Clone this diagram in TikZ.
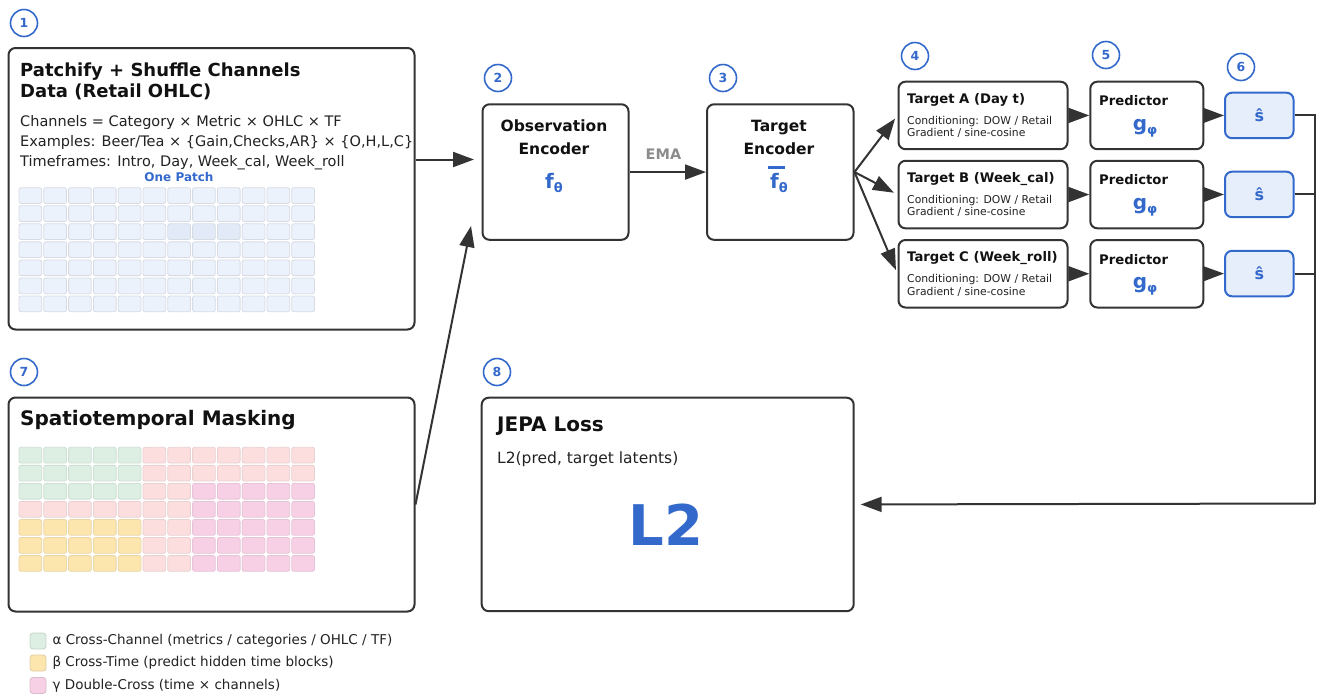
\documentclass[tikz,border=0pt]{standalone}
\usepackage{fontspec}
\setmainfont{DejaVu Sans}
\usetikzlibrary{arrows.meta}

\definecolor{edgegray}{HTML}{333333}
\definecolor{titlecol}{HTML}{111111}
\definecolor{bodycol}{HTML}{222222}
\definecolor{stepblue}{HTML}{3469CC}
\definecolor{emagray}{HTML}{8C8C8C}
\definecolor{shatfill}{HTML}{E6EEFB}
\definecolor{patchfill}{HTML}{ECF2FC}
\definecolor{patchpick}{HTML}{E2EAF8}
\definecolor{cellline}{HTML}{D6DBE3}
\definecolor{maskgreen}{HTML}{DCEFE2}
\definecolor{maskred}{HTML}{FCDEDF}
\definecolor{maskyellow}{HTML}{FDE5AE}
\definecolor{maskpink}{HTML}{F8D0E6}

\tikzset{
  panel/.style={draw=edgegray, line width=2pt, rounded corners=7pt, fill=white, anchor=north west, inner sep=0pt},
  shatbox/.style={draw=stepblue, line width=2pt, rounded corners=7pt, fill=shatfill, anchor=north west, inner sep=0pt, text=stepblue, font=\fontsize{16}{18}\selectfont\bfseries},
  stepnum/.style={circle, draw=stepblue, line width=1.6pt, minimum size=27pt, inner sep=0pt, text=stepblue, font=\fontsize{12.5}{14}\selectfont\bfseries},
  ttl/.style={anchor=base west, inner sep=0pt, text=titlecol, font=\fontsize{18}{21}\selectfont\bfseries},
  bigttl/.style={anchor=base west, inner sep=0pt, text=titlecol, font=\fontsize{20}{24}\selectfont\bfseries},
  body/.style={anchor=base west, inner sep=0pt, text=bodycol, font=\fontsize{14.5}{17}\selectfont},
  enclbl/.style={anchor=base, inner sep=0pt, text=titlecol, font=\fontsize{15.5}{18}\selectfont\bfseries},
  sym/.style={anchor=base, inner sep=0pt, text=stepblue, font=\fontsize{20}{24}\selectfont\bfseries},
  tgtlbl/.style={anchor=base west, inner sep=0pt, text=titlecol, font=\fontsize{13.2}{15}\selectfont\bfseries},
  condlbl/.style={anchor=base west, inner sep=0pt, text=bodycol, font=\fontsize{10.8}{12}\selectfont},
  swatch/.style={draw=#1!75!gray, fill=#1, line width=0.8pt, rounded corners=3pt, minimum size=16pt, inner sep=0pt},
  legtxt/.style={text=bodycol, inner sep=0pt, font=\fontsize{13.5}{16}\selectfont},
  cell/.style={draw=cellline, line width=0.8pt, rounded corners=2pt},
  wire/.style={draw=edgegray, line width=2pt},
  arr/.style={draw=edgegray, line width=2pt, -{Triangle[length=21pt,width=15pt]}}
}

\begin{document}
\begin{tikzpicture}[x=1pt,y=-1pt]
    \useasboundingbox (0,0) rectangle (1324,697);
    \fill[white] (0,0) rectangle (1324,697);

    % step numbers
    \node[stepnum] (n1) at (24,23) {1};
    \node[stepnum] (n2) at (498,78) {2};
    \node[stepnum] (n3) at (723,78) {3};
    \node[stepnum] (n4) at (915,56) {4};
    \node[stepnum] (n5) at (1106,55) {5};
    \node[stepnum] (n6) at (1241,67) {6};
    \node[stepnum] (n7) at (24,372) {7};
    \node[stepnum] (n8) at (497,372) {8};

    % 1: patchify
    \node[panel, minimum width=406pt, minimum height=281.5pt] (patch) at (7.5,47) {};
    \node[ttl] (patchT1) at (20,76) {Patchify + Shuffle Channels};
    \node[ttl] (patchT2) at (20,97) {Data (Retail OHLC)};
    \node[body] (chan) at (20,126.7) {Channels = Category × Metric × OHLC × TF};
    \node[body] (exmp) at (20,146.7) {Examples: Beer/Tea × \{Gain,Checks,AR\} × \{O,H,L,C\}};
    \node[body] (tfr) at (20,166.7) {Timeframes: Intro, Day, Week\_cal, Week\_roll};
    \node[anchor=base, inner sep=0pt, text=stepblue, font=\fontsize{12}{14}\selectfont\bfseries] (onep) at (179,181.7) {One Patch};
    \foreach \r in {0,...,6}
      \foreach \c in {0,...,11} {
        \def\cf{patchfill}
        \ifnum\r=2 \ifnum\c>5 \ifnum\c<9 \def\cf{patchpick}\fi\fi\fi
        \draw[cell, fill=\cf] (19+24.8*\c,187.7+18.05*\r) rectangle ++(22.7,15.7);
      }

    % 7: masking
    \node[panel, minimum width=406pt, minimum height=214pt] (mask) at (7.5,396.5) {};
    \node[bigttl] (maskT) at (20,425) {Spatiotemporal Masking};
    \foreach \r in {0,...,6}
      \foreach \c in {0,...,11} {
        \def\cf{maskred}
        \ifnum\c<5 \ifnum\r<3 \def\cf{maskgreen}\fi \ifnum\r>3 \def\cf{maskyellow}\fi\fi
        \ifnum\c>6 \ifnum\r>1 \def\cf{maskpink}\fi\fi
        \draw[cell, draw=\cf!85!gray, fill=\cf] (19+24.8*\c,447.3+18.05*\r) rectangle ++(22.7,15.7);
      }

    % legend
    \node[swatch=maskgreen, label={[legtxt, label distance=6pt]east:α Cross-Channel (metrics / categories / OHLC / TF)}] (legA) at (38,641) {};
    \node[swatch=maskyellow, label={[legtxt, label distance=6pt]east:β Cross-Time (predict hidden time blocks)}] (legB) at (38,663) {};
    \node[swatch=maskpink, label={[legtxt, label distance=6pt]east:γ Double-Cross (time × channels)}] (legC) at (38,685.5) {};

    % 2, 3: encoders
    \node[panel, minimum width=146pt, minimum height=135.5pt] (obs) at (481.5,103.3) {};
    \node[enclbl] (obsT1) at (554,131.7) {Observation};
    \node[enclbl] (obsT2) at (554,154) {Encoder};
    \node[sym] (fobs) at (554,188) {f\raisebox{-4pt}{\fontsize{13}{14}\selectfont θ}};
    \node[panel, minimum width=146.5pt, minimum height=135.5pt] (tenc) at (706,103.3) {};
    \node[enclbl] (tencT1) at (779,131.7) {Target};
    \node[enclbl] (tencT2) at (779,154) {Encoder};
    \node[sym] (ftgt) at (779,188) {\makebox[0pt][l]{\hspace{-2pt}\raisebox{19pt}{\rule{16.5pt}{3pt}}}f\raisebox{-4pt}{\fontsize{13}{14}\selectfont θ}};
    \node[anchor=base, inner sep=0pt, text=emagray, font=\fontsize{14.5}{17}\selectfont\bfseries] (ema) at (663.5,159.3) {EMA};

    % 4: targets
    \node[panel, minimum width=169pt, minimum height=67.5pt] (tgtA) at (897.5,80.7) {};
    \node[tgtlbl] (tgtAT) at (907,103.3) {Target A (Day t)};
    \node[condlbl] (tgtAC) at (907,124) {Conditioning: DOW / Retail};
    \node[condlbl] (tgtAG) at (907,136.7) {Gradient / sine-cosine};
    \node[panel, minimum width=169pt, minimum height=67.5pt] (tgtB) at (897.5,159.8) {};
    \node[tgtlbl] (tgtBT) at (907,182.4) {Target B (Week\_cal)};
    \node[condlbl] (tgtBC) at (907,203.1) {Conditioning: DOW / Retail};
    \node[condlbl] (tgtBG) at (907,215.8) {Gradient / sine-cosine};
    \node[panel, minimum width=169pt, minimum height=67.5pt] (tgtC) at (897.5,239) {};
    \node[tgtlbl] (tgtCT) at (907,261.6) {Target C (Week\_roll)};
    \node[condlbl] (tgtCC) at (907,282.3) {Conditioning: DOW / Retail};
    \node[condlbl] (tgtCG) at (907,295) {Gradient / sine-cosine};

    % 5: predictors
    \node[panel, minimum width=113pt, minimum height=67.5pt] (predA) at (1089.3,80.7) {};
    \node[tgtlbl] (predAT) at (1099,105.7) {Predictor};
    \node[sym] (gA) at (1145,130) {g\raisebox{-4pt}{\fontsize{13}{14}\selectfont φ}};
    \node[panel, minimum width=113pt, minimum height=67.5pt] (predB) at (1089.3,159.8) {};
    \node[tgtlbl] (predBT) at (1099,184.8) {Predictor};
    \node[sym] (gB) at (1145,209.1) {g\raisebox{-4pt}{\fontsize{13}{14}\selectfont φ}};
    \node[panel, minimum width=113pt, minimum height=67.5pt] (predC) at (1089.3,239) {};
    \node[tgtlbl] (predCT) at (1099,264) {Predictor};
    \node[sym] (gC) at (1145,288.3) {g\raisebox{-4pt}{\fontsize{13}{14}\selectfont φ}};

    % 6: predicted latents
    \node[shatbox, minimum width=68.5pt, minimum height=45.5pt] (sA) at (1224,91.7) {ŝ};
    \node[shatbox, minimum width=68.5pt, minimum height=45.5pt] (sB) at (1224,170.7) {ŝ};
    \node[shatbox, minimum width=68.5pt, minimum height=45.5pt] (sC) at (1224,249.8) {ŝ};

    % 8: loss
    \node[panel, minimum width=372pt, minimum height=213.5pt] (loss) at (480.7,396.7) {};
    \node[bigttl] (lossT) at (497,431) {JEPA Loss};
    \node[anchor=base west, inner sep=0pt, text=bodycol, font=\fontsize{15.5}{18}\selectfont] (lossF) at (497,463) {L2(pred, target latents)};
    \node[anchor=base, inner sep=0pt, text=stepblue, font=\fontsize{56}{60}\selectfont\bfseries] (lossL2) at (666,545) {L2};

    % connectors
    \coordinate (inA) at (474,159.5);
    \coordinate (inB) at (471,226);
    \coordinate (rail) at (1315,503.5);
    \draw[arr] (patch.east |- inA) -- (inA);
    \draw[arr] (mask.east) -- (inB);
    \draw[arr] (obs.east) -- (tenc.west);
    \draw[arr, shorten >=4pt] (tenc.east) -- (tgtA.west);
    \draw[arr, shorten >=4pt] (tenc.east) -- (tgtB.west);
    \draw[arr, shorten >=4pt] (tenc.east) -- (tgtC.west);
    \draw[arr] (tgtA.east) -- (predA.west);
    \draw[arr] (tgtB.east) -- (predB.west);
    \draw[arr] (tgtC.east) -- (predC.west);
    \draw[arr] (predA.east) -- (sA.west);
    \draw[arr] (predB.east) -- (sB.west);
    \draw[arr] (predC.east) -- (sC.west);
    \draw[wire] (sA.east) -| (rail);
    \draw[wire] (sB.east) -| (rail);
    \draw[wire] (sC.east) -| (rail);
    \draw[arr, shorten >=6pt] (rail) -- (loss.east);
\end{tikzpicture}
\end{document}
